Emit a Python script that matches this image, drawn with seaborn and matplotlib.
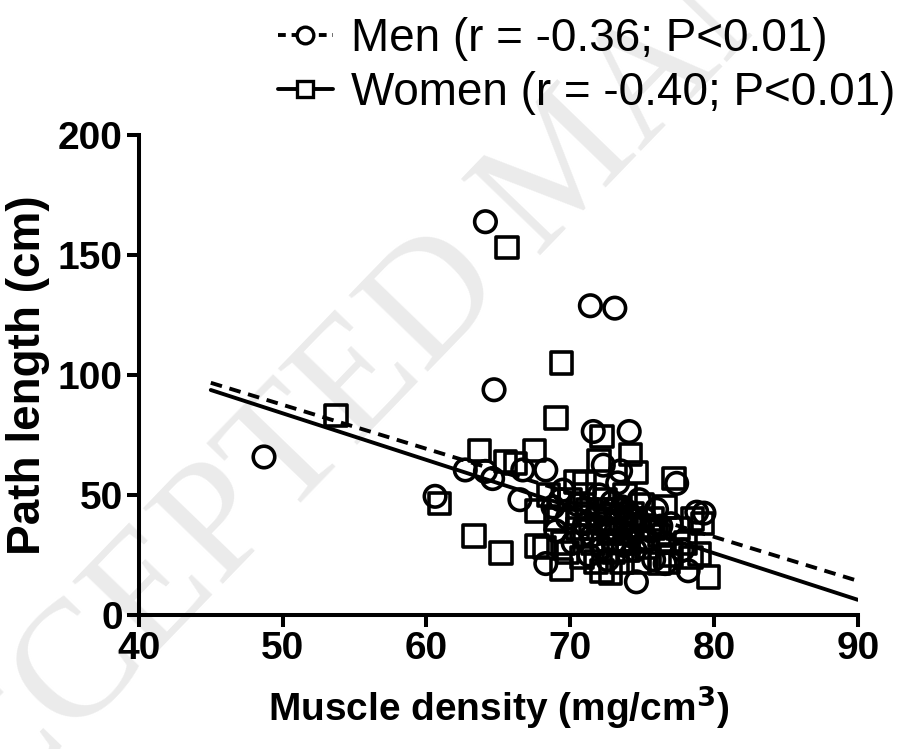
import numpy as np
import pandas as pd
import seaborn as sns
import matplotlib.pyplot as plt
from matplotlib.lines import Line2D

# muscle density (mg/cm3) and path length (cm)
men_density = [64.1, 71.4, 73.1, 64.7, 48.7, 60.6, 62.7, 64.1, 64.6, 66.7, 68.3, 66.5,
               71.6, 74.1, 72.3, 77.4, 78.8, 79.3, 74.6, 78.2, 68.3, 76.6, 69.8,
               69.5, 70.5, 71.0, 71.5, 72.0, 72.5, 72.8, 73.0, 73.3, 73.6, 73.9, 74.2,
               74.5, 74.8, 75.2, 75.6, 76.0, 76.5, 77.0, 77.8, 70.2, 71.3, 72.6, 69.0,
               68.8, 75.8, 73.5, 72.2, 71.8, 72.9, 73.7, 74.4, 70.8, 75.4, 76.3, 69.3,
               73.2, 74.0]
men_path = [163.8, 128.8, 127.8, 93.8, 65.8, 49.4, 60.4, 59.8, 56.8, 60.4, 60.4, 48.0,
            76.4, 76.4, 62.4, 54.8, 42.8, 42.4, 13.8, 18.4, 21.4, 21.4, 40.4,
            52, 46, 38, 33, 50, 42, 36, 30, 55, 45, 39, 33,
            27, 48, 40, 35, 44, 30, 38, 27, 30, 25, 23, 35,
            45, 23, 60, 28, 41, 47, 29, 37, 33, 31, 37, 48,
            35, 43]

women_density = [65.6, 69.4, 53.7, 69.0, 72.2, 63.7, 67.5, 65.5, 66.2, 60.9, 63.3, 65.2,
                 67.7, 69.4, 72.0, 74.2, 74.6, 77.2, 79.6, 79.0, 74.8, 72.2, 72.8, 76.2,
                 67.7, 70.4,
                 68.5, 69.0, 69.5, 70.0, 70.5, 71.0, 71.2, 71.6, 72.0, 72.4, 72.7, 73.0,
                 73.2, 73.5, 73.8, 74.0, 74.3, 74.7, 75.0, 75.3, 75.7, 76.2, 76.6, 77.0,
                 77.5, 78.0, 78.5, 79.2, 68.2, 70.8, 71.8, 73.6, 76.8, 78.4, 69.8, 75.0,
                 72.5, 73.8, 71.4, 72.6, 73.4, 74.5, 70.6, 75.8, 71.0, 74.0]
women_path = [153.0, 105.0, 83.0, 82.0, 74.4, 68.4, 68.4, 64.0, 63.0, 46.4, 32.8, 25.8,
              28.8, 19.0, 64.4, 66.8, 59.4, 56.8, 15.8, 25.4, 21.8, 18.4, 17.4, 21.4,
              43.4, 55.4,
              50, 40, 30, 48, 36, 55, 44, 30, 40, 48, 34, 26,
              44, 38, 50, 30, 42, 36, 46, 28, 40, 33, 45, 25,
              36, 30, 40, 38, 28, 24, 22, 22, 22, 24, 26, 32,
              38, 34, 36, 44, 31, 40, 42, 36, 50, 27]

# regression lines as drawn (end points)
line_density = [45, 90]
men_fit = [96.7, 14.2]
women_fit = [93.7, 6.3]

men_label = "Men (r = -0.36; P<0.01)"
women_label = "Women (r = -0.40; P<0.01)"

pts = pd.concat([
    pd.DataFrame({"density": men_density, "path": men_path, "sex": "Men"}),
    pd.DataFrame({"density": women_density, "path": women_path, "sex": "Women"}),
])
fits = pd.concat([
    pd.DataFrame({"density": line_density, "path": men_fit, "sex": "Men"}),
    pd.DataFrame({"density": line_density, "path": women_fit, "sex": "Women"}),
])

sns.set_theme(style="ticks")
plt.rcParams["font.family"] = ["Liberation Sans", "DejaVu Sans"]

fig, ax = plt.subplots(figsize=(9.02, 7.49), dpi=100)
fig.subplots_adjust(left=0.154, right=0.951, bottom=0.179, top=0.820)

# watermark behind everything
fig.text(0.63, 0.775, "ACCEPTED MANUSCRIPT", rotation=46, color="#ebebeb",
         fontsize=120, family=["Liberation Serif", "DejaVu Serif"],
         ha="center", va="center", zorder=-10)

sns.lineplot(data=fits, x="density", y="path", style="sex", color="black",
             dashes={"Men": (3, 2), "Women": ""}, linewidth=2.8, legend=False,
             ax=ax, zorder=3)
sns.scatterplot(data=pts, x="density", y="path", style="sex",
                markers={"Men": "o", "Women": "s"}, s=240, facecolor="none",
                edgecolor="black", linewidth=2.6, legend=False, ax=ax, zorder=4)

ax.set_xlim(40, 90)
ax.set_ylim(0, 200)
ax.set_xticks(range(40, 91, 10))
ax.set_yticks(range(0, 201, 50))
ax.patch.set_alpha(0)
sns.despine(ax=ax)
for sp in ["left", "bottom"]:
    ax.spines[sp].set_linewidth(2.9)
    ax.spines[sp].set_color("black")
ax.tick_params(length=8.5, width=2.9, color="black", labelsize=28, pad=3,
               labelcolor="black")
for lab in ax.get_xticklabels() + ax.get_yticklabels():
    lab.set_fontweight("bold")

ax.set_xlabel("Muscle density (mg/cm$^\\mathbf{3}$)", fontsize=28, fontweight="bold",
              labelpad=12, color="black")
ax.set_ylabel("Path length (cm)", fontsize=33, fontweight="bold", labelpad=6,
              color="black")

handles = [
    Line2D([], [], color="black", linestyle=(0, (2, 1.5)), linewidth=2.8, marker="o",
           markersize=12, markerfacecolor="white", markeredgewidth=2.4),
    Line2D([], [], color="black", linestyle="-", linewidth=2.8, marker="s",
           markersize=12, markerfacecolor="white", markeredgewidth=2.4),
]
fig.legend(handles, [men_label, women_label], loc="upper left",
           bbox_to_anchor=(0.262, 1.032), frameon=False, fontsize=33,
           handlelength=1.2, handletextpad=0.4, labelspacing=0.22,
           labelcolor="black")

fig.savefig("out.png", dpi=100)
